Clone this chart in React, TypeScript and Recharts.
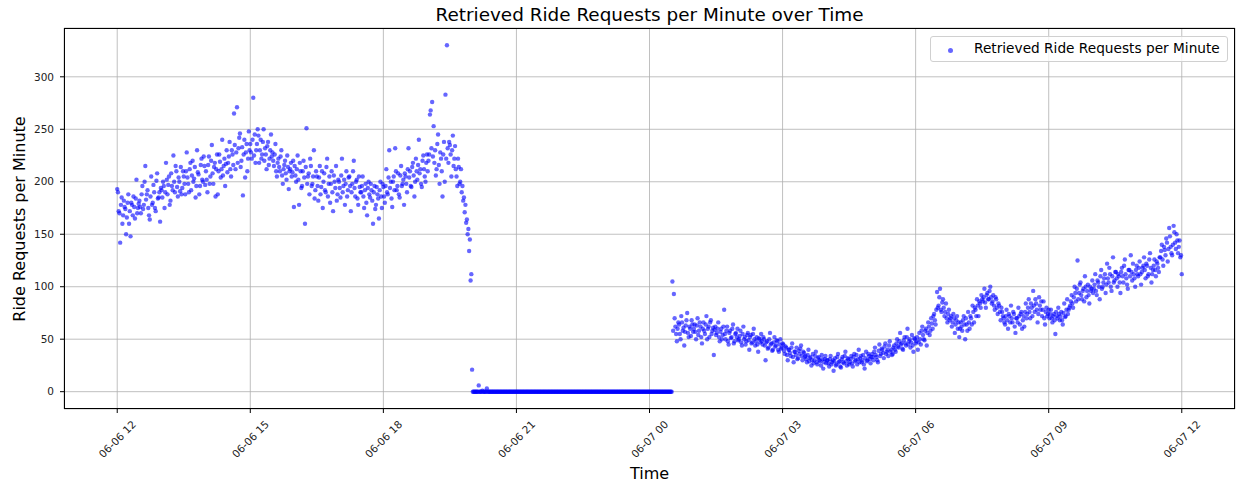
import React from 'react';
import { ScatterChart, Scatter, XAxis, YAxis, CartesianGrid, Legend } from 'recharts';

const FONT = 'DejaVu Sans';

const X_TICKS = [0, 180, 360, 540, 720, 900, 1080, 1260, 1440];
const X_LABELS = ['06-06 12', '06-06 15', '06-06 18', '06-06 21', '06-07 00', '06-07 03', '06-07 06', '06-07 09', '06-07 12'];
const Y_TICKS = [0, 50, 100, 150, 200, 250, 300];

// ride requests per minute, one reading per minute, 30 per row
// 06-06 12:00 -> 19:59
const afternoon = [
  193, 190, 172, 170, 142, 178, 185, 160, 168, 182, 176, 174, 150, 166, 180, 188, 160, 172, 148, 180, 178, 168, 186, 176, 165, 184, 202, 170, 175, 179,
  182, 176, 170, 188, 196, 174, 178, 200, 215, 183, 188, 192, 175, 168, 164, 186, 205, 178, 180, 197, 190, 175, 172, 201, 208, 184, 185, 190, 162, 194,
  192, 185, 200, 196, 175, 190, 218, 202, 188, 197, 205, 178, 182, 208, 196, 192, 225, 200, 190, 215, 210, 195, 186, 204, 200, 191, 214, 188, 194, 210,
  205, 198, 188, 210, 228, 204, 198, 190, 212, 218, 192, 206, 220, 200, 203, 214, 185, 196, 230, 209, 207, 188, 196, 216, 222, 202, 200, 224, 215, 197,
  210, 202, 190, 216, 224, 198, 205, 220, 235, 208, 198, 214, 218, 186, 212, 226, 188, 210, 226, 219, 204, 212, 240, 206, 215, 222, 196, 217, 230, 209,
  218, 224, 238, 212, 205, 230, 226, 216, 265, 235, 212, 228, 271, 218, 232, 242, 246, 214, 220, 233, 187, 226, 240, 204, 228, 236, 210, 222, 248, 230,
  236, 228, 222, 240, 280, 225, 245, 218, 230, 236, 250, 244, 218, 230, 240, 222, 226, 238, 250, 220, 232, 226, 212, 234, 238, 216, 222, 230, 245, 224,
  228, 220, 215, 226, 236, 210, 205, 218, 222, 214, 210, 224, 230, 206, 198, 212, 216, 220, 208, 202, 225, 214, 193, 210, 212, 218, 205, 209, 220, 176,
  215, 206, 200, 212, 225, 202, 178, 218, 210, 194, 196, 210, 220, 204, 160, 214, 251, 198, 205, 208, 188, 222, 215, 196, 198, 205, 230, 184, 192, 210,
  205, 196, 182, 204, 215, 188, 195, 210, 175, 200, 208, 192, 190, 214, 222, 186, 198, 205, 180, 198, 210, 190, 172, 206, 200, 194, 215, 182, 188, 202,
  200, 194, 185, 206, 222, 190, 196, 202, 178, 198, 210, 186, 192, 204, 205, 196, 172, 190, 198, 210, 220, 194, 186, 200, 202, 184, 178, 205, 195, 190,
  190, 196, 205, 186, 175, 192, 198, 180, 168, 194, 200, 188, 185, 198, 192, 182, 160, 190, 196, 174, 178, 195, 188, 184, 165, 192, 200, 186, 175, 198,
  195, 186, 180, 196, 212, 190, 188, 204, 230, 194, 200, 184, 176, 200, 205, 192, 232, 210, 192, 196, 208, 188, 185, 206, 215, 196, 198, 202, 178, 208,
  205, 198, 190, 212, 232, 204, 210, 196, 195, 214, 218, 206, 186, 200, 222, 210, 202, 216, 240, 208, 212, 198, 195, 220, 225, 212, 205, 200, 218, 226,
  210, 220, 226, 264, 268, 232, 276, 224, 253, 218, 230, 206, 212, 236, 245, 216, 198, 228, 222, 210, 186, 226, 238, 200, 283, 222, 330, 232, 218, 238,
  235, 226, 205, 230, 244, 215, 222, 234, 212, 205, 196, 222, 214, 198, 200, 212, 190, 196, 182, 185, 171, 178, 161, 164, 150, 155, 134, 145, 106, 112,
];

// 06-06 20:00 -> 06-07 00:30, feed dropped out
const outage = [
  21, 0, 0, 0, 0, 0, 0, 0, 0, 6, 0, 0, 0, 0, 1, 0, 0, 0, 0, 0, 3, 0, 0, 0, 0, 0, 0, 0, 0, 0,
  0, 0, 0, 0, 0, 0, 0, 0, 0, 0, 0, 0, 0, 0, 0, 0, 0, 0, 0, 0, 0, 0, 0, 0, 0, 0, 0, 0, 0, 0,
  0, 0, 0, 0, 0, 0, 0, 0, 0, 0, 0, 0, 0, 0, 0, 0, 0, 0, 0, 0, 0, 0, 0, 0, 0, 0, 0, 0, 0, 0,
  0, 0, 0, 0, 0, 0, 0, 0, 0, 0, 0, 0, 0, 0, 0, 0, 0, 0, 0, 0, 0, 0, 0, 0, 0, 0, 0, 0, 0, 0,
  0, 0, 0, 0, 0, 0, 0, 0, 0, 0, 0, 0, 0, 0, 0, 0, 0, 0, 0, 0, 0, 0, 0, 0, 0, 0, 0, 0, 0, 0,
  0, 0, 0, 0, 0, 0, 0, 0, 0, 0, 0, 0, 0, 0, 0, 0, 0, 0, 0, 0, 0, 0, 0, 0, 0, 0, 0, 0, 0, 0,
  0, 0, 0, 0, 0, 0, 0, 0, 0, 0, 0, 0, 0, 0, 0, 0, 0, 0, 0, 0, 0, 0, 0, 0, 0, 0, 0, 0, 0, 0,
  0, 0, 0, 0, 0, 0, 0, 0, 0, 0, 0, 0, 0, 0, 0, 0, 0, 0, 0, 0, 0, 0, 0, 0, 0, 0, 0, 0, 0, 0,
  0, 0, 0, 0, 0, 0, 0, 0, 0, 0, 0, 0, 0, 0, 0, 0, 0, 0, 0, 0, 0, 0, 0, 0, 0, 0, 0, 0, 0, 0,
  0,
];

// 06-07 00:31 -> 12:00
const morning = [
  105, 58, 93, 70, 62, 55, 48, 60, 66, 64, 55, 50, 72, 66, 58, 61, 44, 57, 63, 68, 75, 56, 52, 62, 60, 53, 68, 64, 57, 60,
  64, 57, 50, 63, 70, 54, 58, 66, 62, 52, 46, 60, 66, 58, 55, 64, 72, 50, 60, 62, 52, 66, 68, 55, 58, 61, 35, 59, 62, 54,
  56, 60, 66, 52, 48, 57, 60, 50, 54, 62, 78, 55, 50, 58, 62, 48, 45, 56, 58, 51, 52, 60, 64, 46, 48, 55, 56, 52, 60, 49,
  50, 53, 58, 47, 44, 55, 62, 50, 52, 45, 48, 54, 56, 49, 40, 52, 54, 46, 47, 55, 60, 50, 44, 48, 52, 45, 38, 51, 50, 47,
  55, 48, 45, 52, 50, 44, 30, 47, 48, 41, 42, 50, 56, 45, 46, 39, 40, 47, 52, 43, 44, 49, 48, 40, 38, 45, 50, 41, 42, 46,
  45, 39, 36, 43, 42, 35, 30, 40, 40, 37, 34, 42, 46, 33, 28, 38, 38, 35, 42, 31, 32, 39, 36, 41, 44, 34, 30, 38, 37, 33,
  34, 31, 28, 35, 40, 29, 32, 33, 25, 30, 36, 27, 30, 34, 38, 28, 26, 32, 33, 30, 29, 25, 35, 31, 22, 28, 31, 34, 27, 30,
  30, 27, 24, 31, 34, 26, 28, 30, 20, 29, 32, 25, 26, 33, 36, 28, 29, 24, 23, 31, 33, 28, 27, 34, 38, 29, 25, 32, 31, 26,
  28, 31, 34, 27, 24, 33, 36, 29, 30, 35, 26, 31, 40, 28, 32, 34, 28, 30, 35, 26, 22, 32, 38, 29, 30, 36, 34, 31, 27, 33,
  36, 33, 30, 38, 42, 35, 33, 30, 28, 39, 45, 34, 36, 41, 40, 37, 32, 43, 46, 36, 38, 40, 34, 44, 48, 38, 40, 35, 36, 42,
  44, 40, 38, 46, 50, 43, 42, 48, 56, 45, 46, 41, 40, 49, 52, 46, 44, 52, 60, 45, 48, 50, 42, 47, 54, 44, 38, 51, 50, 46,
  48, 52, 40, 47, 56, 50, 45, 58, 62, 54, 50, 49, 58, 60, 44, 56, 66, 62, 54, 58, 70, 65, 60, 72, 74, 68, 64, 78, 95, 80,
  82, 90, 98, 78, 76, 85, 88, 80, 72, 76, 84, 70, 66, 74, 78, 68, 70, 72, 62, 66, 74, 70, 56, 64, 68, 72, 60, 66, 52, 60,
  66, 62, 58, 68, 72, 64, 50, 70, 64, 58, 76, 66, 60, 72, 70, 64, 82, 76, 66, 80, 78, 72, 88, 82, 72, 86, 84, 80, 92, 88,
  86, 90, 98, 85, 80, 92, 94, 88, 88, 96, 100, 90, 84, 86, 92, 82, 78, 90, 88, 80, 74, 84, 82, 76, 68, 80, 76, 72, 70, 66,
  64, 72, 78, 68, 60, 74, 72, 66, 82, 70, 66, 76, 74, 62, 56, 70, 70, 66, 80, 72, 64, 74, 76, 60, 68, 72, 62, 76, 84, 70,
  74, 80, 88, 76, 70, 84, 80, 72, 96, 82, 76, 88, 84, 78, 66, 74, 90, 82, 78, 86, 72, 78, 86, 70, 64, 76, 80, 72, 74, 78,
  70, 74, 78, 70, 66, 72, 74, 68, 55, 76, 72, 70, 80, 74, 68, 72, 76, 68, 64, 75, 84, 71, 72, 78, 88, 74, 78, 80, 82, 86,
  92, 84, 80, 90, 100, 94, 86, 98, 125, 88, 94, 102, 104, 92, 88, 96, 98, 86, 110, 100, 90, 96, 102, 92, 84, 100, 96, 98, 106, 94,
  98, 102, 112, 96, 92, 106, 104, 100, 88, 110, 116, 98, 100, 104, 108, 112, 94, 102, 122, 108, 104, 118, 112, 100, 96, 110, 128, 104, 106, 114,
  114, 108, 100, 112, 110, 104, 94, 114, 118, 110, 104, 120, 126, 112, 108, 102, 98, 116, 116, 110, 130, 114, 106, 122, 112, 108, 100, 116, 120, 112,
  110, 118, 124, 112, 102, 114, 118, 120, 128, 116, 108, 122, 120, 110, 112, 126, 132, 118, 104, 112, 116, 120, 126, 116, 110, 124, 122, 118, 114, 128,
  128, 134, 140, 126, 120, 138, 135, 130, 146, 142, 124, 136, 156, 148, 138, 132, 130, 140, 158, 152, 142, 136, 150, 144, 132, 138, 144, 128, 130, 112,
];

const segments = [
  { start: 0, values: afternoon },
  { start: 480, values: outage },
  { start: 751, values: morning },
];
const points = segments.flatMap((s) => s.values.map((v, i) => ({ t: s.start + i, v })));

const Dot = (props: any) => (
  <circle cx={props.cx} cy={props.cy} r={2.2} fill="#0000ff" fillOpacity={0.6} />
);

const XTick = (props: any) => {
  const { x, payload } = props;
  const label = X_LABELS[X_TICKS.indexOf(payload.value)];
  return (
    <text
      x={x}
      y={439}
      transform={`rotate(-45 ${x} 439)`}
      textAnchor="middle"
      dominantBaseline="central"
      fontSize={10.5}
      fontFamily={FONT}
      fill="#222"
    >
      {label}
    </text>
  );
};

const LegendBox = () => (
  <div
    style={{
      width: 298,
      height: 26,
      boxSizing: 'border-box',
      border: '1px solid #d0d0d0',
      borderRadius: 3,
      background: 'rgba(255,255,255,0.8)',
      position: 'relative',
      fontFamily: FONT,
      fontSize: 13.7,
      color: '#000',
    }}
  >
    <span
      style={{
        position: 'absolute',
        left: 17,
        top: 11,
        width: 5,
        height: 5,
        borderRadius: '50%',
        background: 'rgba(0,0,255,0.6)',
      }}
    />
    <span style={{ position: 'absolute', left: 43, top: 3, lineHeight: '17px', whiteSpace: 'nowrap' }}>
      Retrieved Ride Requests per Minute
    </span>
  </div>
);

export default function App() {
  return (
    <div
      style={{
        position: 'absolute',
        left: 0,
        top: 0,
        width: 1238,
        height: 485,
        overflow: 'hidden',
        background: '#fff',
      }}
    >
      <div
        style={{
          position: 'absolute',
          left: 64,
          width: 1171,
          top: 6,
          textAlign: 'center',
          fontFamily: FONT,
          fontSize: 18.4,
          lineHeight: 1,
          color: '#000',
        }}
      >
        Retrieved Ride Requests per Minute over Time
      </div>
      <div
        style={{
          position: 'absolute',
          left: 64,
          width: 1171,
          top: 466,
          textAlign: 'center',
          fontFamily: FONT,
          fontSize: 16,
          lineHeight: 1,
          color: '#000',
        }}
      >
        Time
      </div>
      <ScatterChart width={1238} height={485} margin={{ top: 28, right: 3, bottom: 6, left: 0 }}>
        <CartesianGrid stroke="#b0b0b0" strokeWidth={0.8} />
        <XAxis
          type="number"
          dataKey="t"
          domain={[-72, 1512]}
          ticks={X_TICKS}
          interval={0}
          height={70}
          axisLine={false}
          tickLine={{ stroke: '#000' }}
          tickSize={4}
          tick={<XTick />}
        />
        <YAxis
          type="number"
          dataKey="v"
          domain={[-16.5, 346.5]}
          ticks={Y_TICKS}
          interval={0}
          width={64}
          axisLine={false}
          tickLine={{ stroke: '#000' }}
          tickSize={4}
          tickMargin={6}
          tick={{ fontSize: 10.5, fontFamily: FONT, fill: '#222' }}
          label={{
            content: () => (
              <text
                x={25}
                y={219}
                transform="rotate(-90 25 219)"
                textAnchor="middle"
                fontSize={16}
                fontFamily={FONT}
                fill="#000"
              >
                Ride Requests per Minute
              </text>
            ),
          }}
        />
        <Scatter data={points} shape={Dot} isAnimationActive={false} />
        <Legend
          content={<LegendBox />}
          verticalAlign="middle"
          align="center"
          layout="horizontal"
          wrapperStyle={{ left: 930, top: 36, width: 298, height: 26 }}
        />
      </ScatterChart>
      {/* axes frame (matplotlib spines) */}
      <div
        style={{
          position: 'absolute',
          left: 63.5,
          top: 27.5,
          width: 1171.5,
          height: 381.5,
          border: '1px solid #000',
          boxSizing: 'border-box',
          pointerEvents: 'none',
        }}
      />
    </div>
  );
}
